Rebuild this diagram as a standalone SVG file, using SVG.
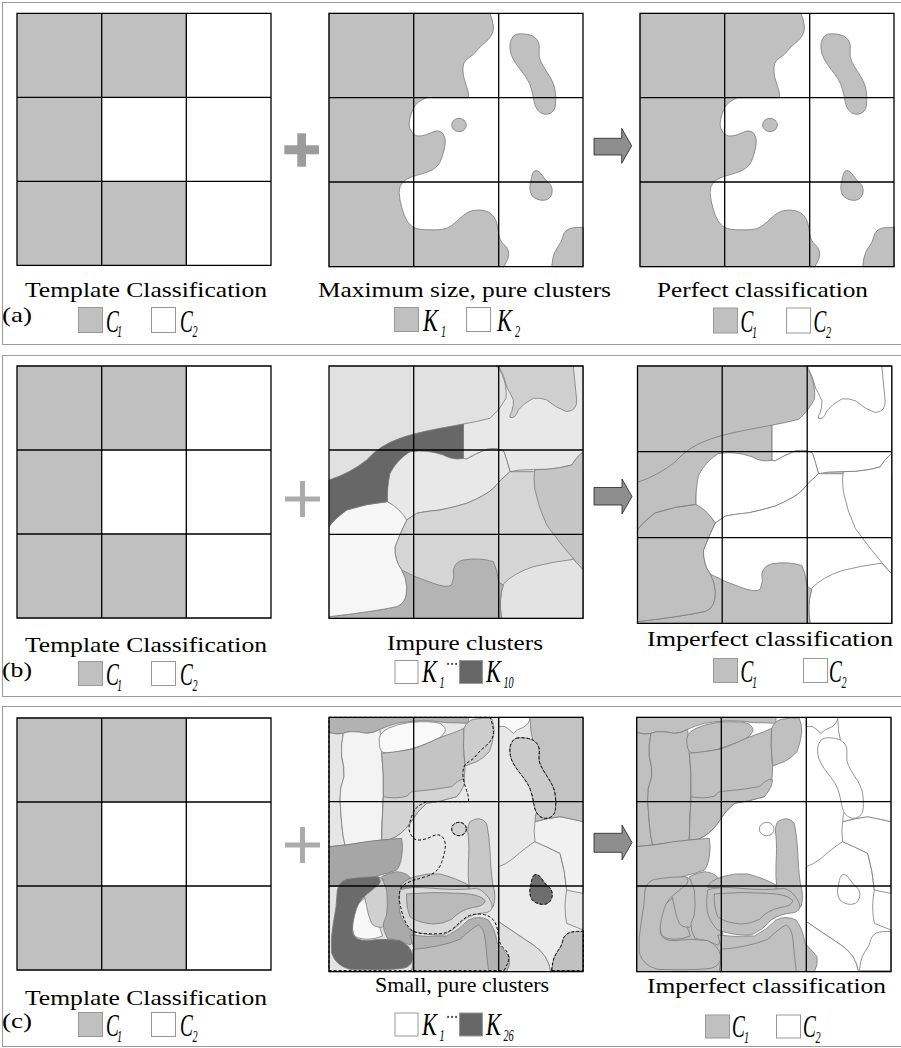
<svg xmlns="http://www.w3.org/2000/svg" width="901" height="1048" viewBox="0 0 901 1048">
<style>
.frame{fill:none;stroke:#9a9a9a;stroke-width:1}
.grid{fill:none;stroke:#000;stroke-width:1.3}
.c1{fill:#c0c0c0}
.c2{fill:#fff}
.tt{font-family:"Liberation Serif","Times New Roman",serif;font-size:22px;fill:#000}
.lab{font-family:"Liberation Serif","Times New Roman",serif;font-size:22px;fill:#000}
.L{font-family:"Liberation Serif","Times New Roman",serif;font-size:32px;font-style:italic;fill:#000}
.S{font-family:"Liberation Serif","Times New Roman",serif;font-size:17px;font-style:italic;fill:#000}
.dots{font-family:"Liberation Serif","Times New Roman",serif;font-size:18px;fill:#000}
.sw{stroke:#999;stroke-width:1}
.reg{stroke:#7a7a7a;stroke-width:2.4;stroke-linejoin:round}
.dash{fill:none;stroke:#000;stroke-width:3;stroke-dasharray:9 6}
.plus{fill:#9c9c9c}
.plus2{fill:#ababab}
.arrow{fill:#8e8e8e;stroke:#222;stroke-width:0.8}
</style>
<defs>
<g id="tpl">
<rect x="0" y="0" width="254" height="252" fill="#fff"/>
<rect x="0" y="0" width="169.3" height="84" class="c1"/>
<rect x="0" y="84" width="84.7" height="84" class="c1"/>
<rect x="0" y="168" width="169.3" height="84" class="c1"/>
<path class="grid" d="M0,0H254V252H0Z M84.7,0V252 M169.3,0V252 M0,84H254 M0,168H254"/>
</g>
<path id="a-main" d="M87,40 L570,40 Q578,60 580,77.5 Q582,95 573.5,107.5 Q565,120 552.5,130 Q540,140 530,152.5 Q520,165 507.5,172.5 Q495,180 491.5,190 Q488,200 489,215 Q490,230 495,245 Q500,260 503.5,271.5 Q507,283 505,293 L380,293 Q350,305 341.5,322.5 Q333,340 329,357.5 Q325,375 330,386.5 Q335,398 342.5,404 Q350,410 365,407.5 Q380,405 395,397.5 Q410,390 420,394 Q430,398 434,411.5 Q438,425 434,442.5 Q430,460 425,475 Q420,490 410,500 Q400,510 382.5,516 Q365,522 350,526 Q335,530 320,537.5 Q305,545 300,560 Q295,575 300,600 Q305,625 312.5,645 Q320,665 332.5,676.5 Q345,688 372.5,689 Q400,690 420,689 Q440,688 455,676.5 Q470,665 480,655 Q490,645 502.5,637.5 Q515,630 535,630 Q555,630 567.5,637.5 Q580,645 586,657.5 Q592,670 594.5,690 Q597,710 601,719 Q605,728 613.5,735 Q622,742 625,753.5 Q628,765 624,775 Q620,785 612,800 L87,800 Z"/>
<path id="a-isl" d="M650,102.5 Q660,100 680,102.5 Q700,105 710,117.5 Q720,130 717.5,150 Q715,170 722.5,185 Q730,200 740,215 Q750,230 757.5,245 Q765,260 766.5,280 Q768,300 766.5,315 Q765,330 755,337.5 Q745,345 732.5,342.5 Q720,340 712.5,330 Q705,320 702.5,305 Q700,290 695,270 Q690,250 680,235 Q670,220 660,207.5 Q650,195 641,180 Q632,165 630,147.5 Q628,130 634,117.5 Q640,105 650,102.5 Z"/>
<ellipse id="a-dot" cx="477" cy="375" rx="22" ry="20"/>
<path id="a-rb" d="M701,515 Q705,510 712.5,512.5 Q720,515 727.5,527.5 Q735,540 745,547.5 Q755,555 756.5,567.5 Q758,580 751.5,590 Q745,600 732.5,601 Q720,602 707.5,596 Q695,590 691.5,577.5 Q688,565 690.5,552.5 Q693,540 695,530 Q697,520 701,515 Z"/>
<path id="a-br" d="M755,800 Q758,770 764,757.5 Q770,745 777.5,735 Q785,725 787.5,712.5 Q790,700 797.5,693 Q805,686 815,684 Q825,682 850,682 L850,800 Z"/>
<path id="b-L2" d="M590,78 L850,78 L850,335 Q830,350 815,375 Q780,385 740,388 Q700,388 660,390 L630,395 Q622,365 612,335 Q595,322 560,328 Q525,342 500,357 L490,355 L490,252 Q530,245 570,235 Q600,210 618,175 Q622,140 605,100 Z"/>
<path id="b-M1" d="M596,78 L820,78 Q825,130 830,180 Q832,212 800,215 Q770,205 740,180 Q720,172 700,175 Q670,190 655,210 Q645,238 630,232 Q628,225 635,215 Q642,195 640,180 Q632,160 622,145 Q612,105 596,78 Z"/>
<path id="b-L5" d="M490,355 L500,357 Q525,342 560,328 Q595,322 612,335 Q622,365 630,395 Q600,420 580,445 Q560,465 500,490 Q460,502 420,510 Q370,515 350,520 L320,540 Q300,510 262,485 L262,400 L300,340 L400,325 Z"/>
<path id="b-L3" d="M630,395 Q600,420 580,445 Q560,465 500,490 Q460,502 420,510 Q370,515 350,520 L320,540 Q300,580 285,620 Q283,660 305,690 L330,835 L850,835 L850,400 L700,395 Z"/>
<path id="b-M2" d="M705,389 Q720,388 740,388 Q780,385 815,375 Q830,350 850,335 L850,690 Q830,670 815,650 Q780,610 740,555 Q715,500 705,450 Q700,410 705,389 Z"/>
<path id="b-L4" d="M610,732 Q640,700 700,680 Q760,665 820,658 L850,690 L850,835 L605,835 Q595,780 610,732 Z"/>
<path id="b-M3" d="M305,690 Q345,712 400,730 Q440,745 455,735 Q465,710 460,690 Q465,665 490,660 Q540,652 580,665 Q592,690 595,720 Q598,732 610,735 Q595,780 605,835 L87,835 L87,830 Q220,815 290,800 Q322,790 320,740 Q318,712 305,690 Z"/>
<path id="b-W" d="M262,485 Q300,505 320,540 Q300,580 285,620 Q283,660 305,690 Q318,712 320,740 Q322,790 290,800 Q220,815 87,830 L87,560 Q100,540 140,510 Q200,490 262,485 Z"/>
<path id="b-D" d="M87,420 Q150,400 200,360 Q240,315 300,295 Q340,280 420,265 L490,252 L490,355 Q460,362 430,345 Q380,328 330,335 Q290,360 270,400 Q260,450 262,485 Q200,490 140,510 Q100,540 87,560 Z"/>
<path id="c-BRL" d="M705,455 Q740,470 780,490 Q795,540 800,600 Q790,650 800,700 L850,720 L850,845 L752,845 Q745,795 700,765 Q640,725 596,695 L596,530 Q615,525 640,505 Q680,470 705,455 Z"/>
<path id="c-BR2" d="M596,695 Q640,725 700,765 Q745,795 752,845 L596,845 Z"/>
<path id="c-RM" d="M705,395 Q740,385 780,380 Q820,388 850,395 L850,610 Q820,605 800,600 Q795,540 780,490 Q740,470 705,455 Q700,420 705,395 Z"/>
<path id="c-TRW" d="M596,82 L690,82 Q690,100 670,112 Q650,118 640,130 Q628,118 615,110 Q605,108 596,110 Z"/>
<path id="c-TRG" d="M690,82 L850,82 L850,395 Q820,388 780,380 Q740,385 705,395 Q705,350 735,340 Q700,300 700,250 Q705,200 700,160 Q690,120 690,82 Z"/>
<path id="c-T" d="M87,82 L505,82 L505,100 Q470,98 440,98 Q400,92 360,92 Q320,95 290,100 Q260,108 240,118 Q220,130 200,130 Q175,124 150,125 Q125,133 110,132 L87,128 Z"/>
<path id="c-LS" d="M87,128 L110,132 L130,130 Q122,165 125,200 Q134,230 132,260 Q118,295 120,330 Q122,365 125,400 Q128,440 135,465 L87,470 Z"/>
<path id="c-LC" d="M130,130 Q140,126 150,125 Q175,124 200,130 Q220,130 240,118 L245,190 Q252,250 250,320 Q246,400 245,450 L135,465 Q128,440 125,400 Q122,365 120,330 Q118,295 132,260 Q134,230 125,200 Q122,165 130,130 Z"/>
<path id="c-W1" d="M238,160 Q232,130 265,115 Q290,103 330,97 Q390,92 420,100 Q440,112 435,125 Q428,140 410,148 Q385,160 360,168 Q330,180 290,186 Q255,192 245,185 Q238,175 238,160 Z"/>
<path id="c-MG" d="M245,190 Q290,186 340,177 Q380,162 415,145 Q440,135 470,125 L492,115 Q488,160 495,230 Q496,290 470,320 Q420,335 380,340 Q350,365 330,400 Q305,435 270,448 L245,450 Q246,400 250,320 Q252,250 245,190 Z"/>
<path id="c-MG2" d="M250,320 Q290,328 322,318 Q330,304 345,304 Q400,300 455,290 Q480,265 494,268 Q496,290 470,320 Q420,335 380,340 Q350,365 330,400 Q305,435 270,448 L245,450 Q246,400 250,320 Z"/>
<path id="c-RTM" d="M492,115 Q500,95 520,88 Q550,82 575,85 Q584,105 582,130 Q578,160 568,185 Q550,205 530,215 Q510,222 495,228 Q488,170 492,115 Z"/>
<path id="c-CM" d="M510,395 Q540,375 560,400 Q568,440 570,480 Q572,540 578,580 Q590,620 580,650 Q560,665 535,655 Q512,640 508,600 Q503,560 505,520 Q508,470 505,440 Q500,410 510,395 Z"/>
<path id="c-BL" d="M87,575 L240,565 L300,600 L345,600 L345,845 L87,845 Z"/>
<path id="c-DK1" d="M87,470 Q150,465 200,455 Q240,450 305,445 Q310,470 305,500 Q300,530 290,540 Q260,552 240,555 Q200,568 150,585 L87,590 Z"/>
<path id="c-W2" d="M185,632 Q205,612 220,625 Q230,650 235,690 Q240,720 248,738 Q225,748 200,748 Q170,746 162,735 Q150,700 160,665 Q168,645 185,632 Z"/>
<path id="c-LG" d="M190,590 Q215,570 240,562 Q258,575 262,600 Q268,640 262,680 Q258,705 245,712 Q222,712 215,700 Q205,680 200,650 Q192,620 190,590 Z"/>
<path id="c-MB" d="M245,560 Q270,548 290,545 Q320,548 330,562 Q342,600 338,650 Q335,700 340,730 Q340,760 330,765 Q300,750 262,745 Q248,720 250,700 Q262,680 262,650 Q262,620 260,600 Q250,575 245,560 Z"/>
<path id="c-DK2" d="M112,600 Q118,575 140,568 Q185,560 235,560 Q245,572 238,582 Q222,595 210,605 Q180,625 170,655 Q155,700 158,730 Q165,752 200,752 Q250,744 300,752 Q332,765 340,800 Q338,828 310,835 Q250,842 150,838 Q108,828 95,790 Q92,740 100,700 Q110,650 112,600 Z"/>
<path id="c-CLow" d="M345,560 Q380,548 420,552 Q470,565 505,585 L505,600 Q440,606 380,598 Q330,592 300,592 Q305,572 345,560 Z"/>
<path id="c-BM1" d="M300,600 Q330,588 400,595 Q470,602 530,595 Q560,605 575,640 Q582,660 560,668 Q520,670 490,690 Q465,720 430,735 Q380,738 330,720 Q305,695 298,660 Q295,630 300,600 Z"/>
<path id="c-BM2" d="M320,612 Q400,604 480,610 Q540,612 556,632 Q550,650 520,652 Q480,660 455,688 Q430,702 400,702 Q350,698 330,680 Q318,650 320,612 Z"/>
<path id="c-BM3" d="M330,735 Q380,742 440,738 Q475,722 505,690 Q535,675 565,690 Q585,715 592,760 Q612,780 628,800 Q632,825 620,845 L335,845 Q345,800 340,770 Q335,750 330,735 Z"/>
<path id="c-BM4" d="M338,778 Q420,772 480,748 Q515,715 535,705 Q552,712 556,750 Q560,800 566,845 L335,845 Q342,810 338,778 Z"/>
</defs>

<rect width="901" height="1048" fill="#fff"/>

<g id="frames">
<rect class="frame" x="2.5" y="2.5" width="900" height="342"/>
<rect class="frame" x="2.5" y="355.5" width="900" height="341"/>
<rect class="frame" x="2.5" y="706.5" width="900" height="340"/>
</g>

<g id="a-template">
<use href="#tpl" x="17" y="13.3"/>
<text class="tt" x="25" y="297" textLength="242" lengthAdjust="spacingAndGlyphs">Template Classification</text>
<text class="lab" x="2" y="322" textLength="30" lengthAdjust="spacingAndGlyphs">(a)</text>
<rect x="78.5" y="307.5" width="24" height="25" class="c1 sw"/>
<text class="L" transform="translate(106,331.5) scale(0.6,1)">C</text>
<text class="S" transform="translate(117,337) scale(0.6,1)">1</text>
<rect x="151.5" y="307.5" width="24" height="25" class="c2 sw"/>
<text class="L" transform="translate(180,331.5) scale(0.6,1)">C</text>
<text class="S" transform="translate(192.5,337) scale(0.6,1)">2</text>
</g>

<g id="a-clusters">
<g id="a2" transform="translate(300,0) scale(0.333333)" class="reg">
<rect x="87" y="40" width="763" height="760" fill="#fff" stroke="none"/>
<use href="#a-main" class="c1"/>
<use href="#a-isl" class="c1"/>
<use href="#a-dot" class="c1"/>
<use href="#a-rb" class="c1"/>
<use href="#a-br" class="c1"/>
</g>
<path class="grid" d="M329,13.3H583V266.7H329Z M413.7,13.3V266.7 M498.7,13.3V266.7 M329,97.7H583 M329,182H583"/>
<text class="tt" x="318" y="297" textLength="293" lengthAdjust="spacingAndGlyphs">Maximum size, pure clusters</text>
<rect x="394.5" y="307.5" width="24" height="24" class="c1 sw"/>
<text class="L" transform="translate(423,331) scale(0.7,1)">K</text>
<text class="S" transform="translate(441,337) scale(0.6,1)">1</text>
<rect x="466.5" y="307.5" width="24" height="24" class="c2 sw"/>
<text class="L" transform="translate(497,331) scale(0.7,1)">K</text>
<text class="S" transform="translate(515,337) scale(0.6,1)">2</text>
</g>

<g id="a-result">
<use href="#a2" x="311"/>
<path class="grid" d="M640,13.3H894V266.7H640Z M724.7,13.3V266.7 M809.7,13.3V266.7 M640,97.7H894 M640,182H894"/>
<text class="tt" x="657" y="297" textLength="211" lengthAdjust="spacingAndGlyphs">Perfect classification</text>
<rect x="713.5" y="308" width="24" height="25" class="c1 sw"/>
<text class="L" transform="translate(740.5,332) scale(0.6,1)">C</text>
<text class="S" transform="translate(752,338) scale(0.6,1)">1</text>
<rect x="786.5" y="308" width="24" height="25" class="c2 sw"/>
<text class="L" transform="translate(813.5,332) scale(0.6,1)">C</text>
<text class="S" transform="translate(826,338) scale(0.6,1)">2</text>
</g>

<g id="b-template">
<use href="#tpl" x="17" y="366"/>
<text class="tt" x="25" y="652" textLength="242" lengthAdjust="spacingAndGlyphs">Template Classification</text>
<text class="lab" x="2" y="677" textLength="30" lengthAdjust="spacingAndGlyphs">(b)</text>
<rect x="78.5" y="661.5" width="24" height="24" class="c1 sw"/>
<text class="L" transform="translate(106,685) scale(0.6,1)">C</text>
<text class="S" transform="translate(117,691) scale(0.6,1)">1</text>
<rect x="151.5" y="661.5" width="24" height="24" class="c2 sw"/>
<text class="L" transform="translate(180,685) scale(0.6,1)">C</text>
<text class="S" transform="translate(192.5,691) scale(0.6,1)">2</text>
</g>

<g id="b-clusters">
<g transform="translate(300,340) scale(0.333333)" class="reg">
<rect x="87" y="78" width="763" height="757" fill="#e1e1e1" stroke="none"/>
<use href="#b-L2" fill="#e8e8e8"/>
<use href="#b-M1" fill="#cfcfcf"/>
<use href="#b-L5" fill="#e8e8e8"/>
<use href="#b-L3" fill="#d5d5d5"/>
<use href="#b-M2" fill="#c5c5c5"/>
<use href="#b-L4" fill="#e3e3e3"/>
<use href="#b-M3" fill="#b4b4b4"/>
<use href="#b-W" fill="#f6f6f6"/>
<use href="#b-D" fill="#676767"/>
</g>
<path class="grid" d="M329,366H583V618.3H329Z M413.7,366V618.3 M498.7,366V618.3 M329,450H583 M329,534.3H583"/>
<text class="tt" x="387" y="650" textLength="156" lengthAdjust="spacingAndGlyphs">Impure clusters</text>
<rect x="395" y="660.5" width="23" height="23" class="c2 sw"/>
<text class="L" transform="translate(422,682) scale(0.7,1)">K</text>
<text class="S" transform="translate(439.5,688) scale(0.6,1)">1</text>
<text class="dots" x="446" y="670" textLength="12" lengthAdjust="spacingAndGlyphs">···</text>
<rect x="459.5" y="660.5" width="23" height="23" fill="#666" class="sw"/>
<text class="L" transform="translate(486,682) scale(0.7,1)">K</text>
<text class="S" transform="translate(503.5,688) scale(0.6,1)">10</text>
</g>

<g id="b-result">
<g transform="matrix(0.333333,0,0,0.3399,608.5,339.5)" class="reg">
<rect x="87" y="78" width="763" height="757" class="c1" stroke="none"/>
<use href="#b-L2" class="c2"/>
<use href="#b-M1" class="c2"/>
<use href="#b-L5" class="c2"/>
<use href="#b-L3" class="c2"/>
<use href="#b-M2" class="c2"/>
<use href="#b-L4" class="c2"/>
<use href="#b-M3" class="c1"/>
<use href="#b-W" class="c1"/>
<use href="#b-D" class="c1"/>
</g>
<path class="grid" d="M637.5,366H891.8V623.3H637.5Z M722.2,366V623.3 M807.2,366V623.3 M637.5,451.7H891.8 M637.5,537.7H891.8"/>
<text class="tt" x="647" y="646" textLength="246" lengthAdjust="spacingAndGlyphs">Imperfect classification</text>
<rect x="713.5" y="658.5" width="24" height="24" class="c1 sw"/>
<text class="L" transform="translate(740.5,682) scale(0.6,1)">C</text>
<text class="S" transform="translate(752,688) scale(0.6,1)">1</text>
<rect x="803.5" y="658.5" width="24" height="24" class="c2 sw"/>
<text class="L" transform="translate(829,682) scale(0.6,1)">C</text>
<text class="S" transform="translate(841.5,688) scale(0.6,1)">2</text>
</g>

<g id="c-template">
<use href="#tpl" x="17" y="718"/>
<text class="tt" x="25" y="1005" textLength="242" lengthAdjust="spacingAndGlyphs">Template Classification</text>
<text class="lab" x="2" y="1028" textLength="30" lengthAdjust="spacingAndGlyphs">(c)</text>
<rect x="78.5" y="1012.5" width="24" height="24" class="c1 sw"/>
<text class="L" transform="translate(106,1036) scale(0.6,1)">C</text>
<text class="S" transform="translate(117,1042) scale(0.6,1)">1</text>
<rect x="151.5" y="1012.5" width="24" height="24" class="c2 sw"/>
<text class="L" transform="translate(180,1036) scale(0.6,1)">C</text>
<text class="S" transform="translate(192.5,1042) scale(0.6,1)">2</text>
</g>

<g id="c-clusters">
<g transform="translate(300,690) scale(0.333333)" class="reg">
<rect x="87" y="82" width="763" height="763" fill="#e8e8e8" stroke="none"/>
<use href="#c-BRL" fill="#ececec"/>
<use href="#c-BR2" fill="#dfdfdf"/>
<use href="#c-RM" fill="#f1f1f1"/>
<use href="#c-TRW" fill="#fafafa"/>
<use href="#c-TRG" fill="#c3c3c3"/>
<use href="#a-isl" transform="translate(0,42)" fill="#cbcbcb"/>
<use href="#c-T" fill="#b2b2b2"/>
<use href="#c-LS" fill="#e6e6e6"/>
<use href="#c-LC" fill="#f3f3f3"/>
<use href="#c-W1" fill="#f9f9f9"/>
<use href="#c-MG" fill="#c4c4c4"/>
<use href="#c-MG2" fill="#d3d3d3"/>
<use href="#c-RTM" fill="#cdcdcd"/>
<use href="#c-CM" fill="#c8c8c8"/>
<use href="#a-dot" transform="translate(0,42)" fill="#d3d3d3"/>
<use href="#a-rb" transform="translate(0,42)" fill="#6e6e6e"/>
<use href="#a-br" transform="translate(0,42)" fill="#c1c1c1"/>
<use href="#c-BL" fill="#e4e4e4"/>
<use href="#c-DK1" fill="#a6a6a6"/>
<use href="#c-W2" fill="#f8f8f8"/>
<use href="#c-LG" fill="#d0d0d0"/>
<use href="#c-MB" fill="#aaaaaa"/>
<use href="#c-DK2" fill="#6b6b6b"/>
<use href="#c-CLow" fill="#c5c5c5"/>
<use href="#c-BM1" fill="#d9d9d9"/>
<use href="#c-BM2" fill="#bababa"/>
<use href="#c-BM3" fill="#b2b2b2"/>
<use href="#c-BM4" fill="#bebebe"/>
<g class="dash" transform="translate(0,42)">
<use href="#a-main"/>
<use href="#a-isl"/>
<use href="#a-dot"/>
<use href="#a-rb"/>
<use href="#a-br"/>
</g>
</g>
<path class="grid" d="M329,717.3H583V971.7H329Z M413.7,717.3V971.7 M498.7,717.3V971.7 M329,801.7H583 M329,886H583"/>
<text class="tt" x="375" y="992">Small, pure clusters</text>
<rect x="395" y="1013" width="23" height="23" class="c2 sw"/>
<text class="L" transform="translate(422,1035) scale(0.7,1)">K</text>
<text class="S" transform="translate(439.5,1041) scale(0.6,1)">1</text>
<text class="dots" x="446" y="1023" textLength="12" lengthAdjust="spacingAndGlyphs">···</text>
<rect x="459.5" y="1013" width="23" height="23" fill="#666" class="sw"/>
<text class="L" transform="translate(486,1035) scale(0.7,1)">K</text>
<text class="S" transform="translate(503.5,1041) scale(0.6,1)">26</text>
</g>

<g id="c-result">
<g transform="translate(607.67,690) scale(0.333333)" class="reg">
<rect x="87" y="82" width="763" height="763" class="c2" stroke="none"/>
<use href="#c-BRL" class="c2"/>
<use href="#c-BR2" class="c2"/>
<use href="#c-RM" class="c2"/>
<use href="#c-TRW" class="c2"/>
<use href="#c-TRG" class="c2"/>
<use href="#a-isl" transform="translate(0,42)" class="c2"/>
<use href="#c-T" class="c1"/>
<use href="#c-LS" class="c1"/>
<use href="#c-LC" class="c1"/>
<use href="#c-W1" class="c1"/>
<use href="#c-MG" class="c1"/>
<use href="#c-MG2" class="c1"/>
<use href="#c-RTM" class="c1"/>
<use href="#c-CM" class="c1"/>
<use href="#a-dot" transform="translate(0,42)" class="c2"/>
<use href="#a-rb" transform="translate(0,42)" class="c2"/>
<use href="#a-br" transform="translate(0,42)" class="c2"/>
<use href="#c-BL" class="c1"/>
<use href="#c-DK1" class="c1"/>
<use href="#c-W2" class="c1"/>
<use href="#c-LG" class="c1"/>
<use href="#c-MB" class="c1"/>
<use href="#c-DK2" class="c1"/>
<use href="#c-CLow" class="c1"/>
<use href="#c-BM1" class="c1"/>
<use href="#c-BM2" class="c1"/>
<use href="#c-BM3" class="c1"/>
<use href="#c-BM4" class="c1"/>
</g>
<path class="grid" d="M636.7,717.3H891V971.7H636.7Z M721.3,717.3V971.7 M806.3,717.3V971.7 M636.7,801.7H891 M636.7,886H891"/>
<text class="tt" x="647" y="993" textLength="239" lengthAdjust="spacingAndGlyphs">Imperfect classification</text>
<rect x="705.5" y="1015" width="24" height="23" class="c1 sw"/>
<text class="L" transform="translate(732,1037) scale(0.6,1)">C</text>
<text class="S" transform="translate(744,1043) scale(0.6,1)">1</text>
<rect x="776.5" y="1015" width="24" height="23" class="c2 sw"/>
<text class="L" transform="translate(803,1037) scale(0.6,1)">C</text>
<text class="S" transform="translate(815.5,1043) scale(0.6,1)">2</text>
</g>

<g id="connectors">
<rect class="plus" x="297.3" y="133.3" width="8.7" height="33.4"/>
<rect class="plus" x="284.3" y="145.3" width="34.7" height="9"/>
<rect class="plus2" x="300" y="481" width="5" height="36"/>
<rect class="plus2" x="285" y="496.5" width="35" height="5"/>
<rect class="plus2" x="300" y="827" width="5" height="36"/>
<rect class="plus2" x="285" y="842.5" width="35" height="5"/>
<path class="arrow" d="M594,138.3 L621.7,138.3 L621.7,128.3 L631.7,145.8 L621.7,163.3 L621.7,155 L594,155 Z"/>
<path class="arrow" d="M594,487.5 L622,487.5 L622,479 L632,496.5 L622,514 L622,505 L594,505 Z"/>
<path class="arrow" d="M594,833.3 L622,833.3 L622,825 L632,842.5 L622,860 L622,852.3 L594,852.3 Z"/>
</g>
</svg>
